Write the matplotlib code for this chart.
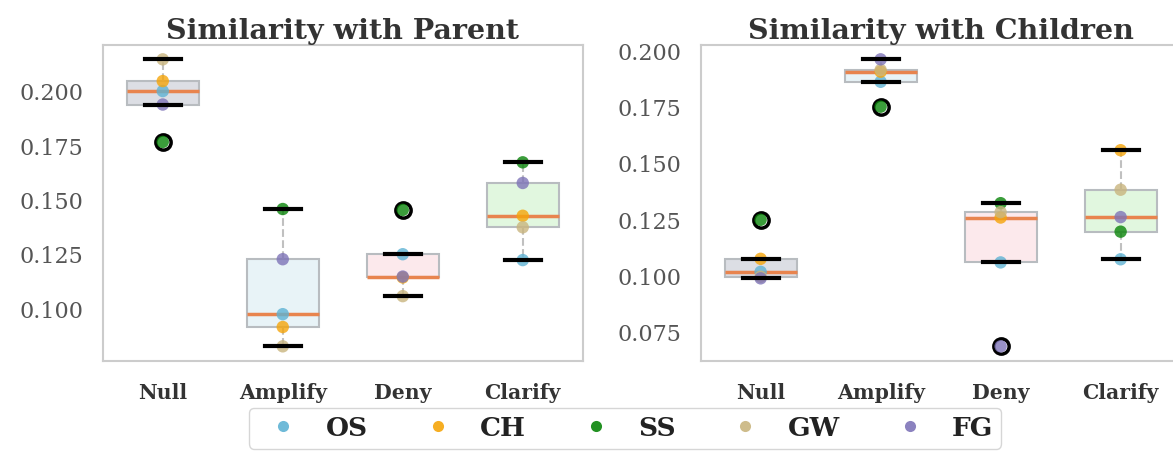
import matplotlib
matplotlib.use("Agg")
import matplotlib.pyplot as plt
from matplotlib.lines import Line2D
import numpy as np

categories = ["Null", "Amplify", "Deny", "Clarify"]
models = ["OS", "CH", "SS", "GW", "FG"]
model_colors = ["#5fb3d4", "#f5a50a", "#0a850a", "#c9b57e", "#7e74b8"]
box_colors = ["#dcdee4", "#e8f3f7", "#fce9ec", "#e1f7df"]

# Similarity with Parent, per model across categories
parent_OS = [0.2004, 0.0977, 0.1253, 0.1226]
parent_CH = [0.2050, 0.0918, 0.1146, 0.1430]
parent_SS = [0.1770, 0.1461, 0.1457, 0.1676]
parent_GW = [0.2150, 0.0829, 0.1060, 0.1377]
parent_FG = [0.1942, 0.1230, 0.1150, 0.1581]

# Similarity with Children
child_OS = [0.1019, 0.1866, 0.1061, 0.1075]
child_CH = [0.1077, 0.1911, 0.1261, 0.1561]
child_SS = [0.1251, 0.1755, 0.1325, 0.1198]
child_GW = [0.0997, 0.1919, 0.1285, 0.1385]
child_FG = [0.0990, 0.1966, 0.0687, 0.1263]

titles = ["Similarity with Parent", "Similarity with Children"]
panels = [
    [parent_OS, parent_CH, parent_SS, parent_GW, parent_FG],
    [child_OS, child_CH, child_SS, child_GW, child_FG],
]

plt.rcParams["font.family"] = "DejaVu Serif"

fig = plt.figure(figsize=(11.73, 4.55), dpi=100)
ax_pos = [[0.0876, 0.2073, 0.4092, 0.6938], [0.5973, 0.2073, 0.4092, 0.6938]]

for p, (series, title) in enumerate(zip(panels, titles)):
    ax = fig.add_axes(ax_pos[p])
    arr = np.array(series)  # models x categories
    data = [arr[:, c] for c in range(len(categories))]
    pos = np.arange(1, len(categories) + 1)
    bp = ax.boxplot(
        data, positions=pos, widths=0.6, patch_artist=True, whis=1.5,
        boxprops=dict(edgecolor="#b8bcc0", linewidth=1.5),
        medianprops=dict(color="#e8844e", linewidth=2.5),
        whiskerprops=dict(color="#c0c0c0", linestyle="--", linewidth=1.5),
        capprops=dict(color="black", linewidth=3),
        flierprops=dict(marker="o", markerfacecolor="none", markeredgecolor="black",
                        markersize=11, markeredgewidth=2.5),
    )
    for patch, bc in zip(bp["boxes"], box_colors):
        patch.set_facecolor(bc)
    for cap in bp["caps"]:
        cap.set_zorder(5)
    for fl in bp["fliers"]:
        fl.set_zorder(2)
    for m, col in enumerate(model_colors):
        ax.scatter(pos, arr[m], s=80, color=col, alpha=0.8, zorder=3,
                   edgecolors="none")
    ax.set_xticks(pos)
    ax.set_xticklabels(categories, fontweight="bold", fontsize=14.7, color="#333333")
    ax.set_yticks([0.075, 0.100, 0.125, 0.150, 0.175, 0.200])
    ax.yaxis.set_major_formatter(matplotlib.ticker.FormatStrFormatter("%.3f"))
    ax.tick_params(axis="y", labelsize=16, labelcolor="#555555", length=0, pad=14)
    ax.tick_params(axis="x", length=0, pad=16)
    ax.margins(y=0.05)
    ax.set_xlim(0.5, 4.5)
    for s in ax.spines.values():
        s.set_color("#cccccc")
        s.set_linewidth(1.5)
    ax.set_title(title, fontweight="bold", fontsize=20.5, color="#333333", pad=4)

handles = [Line2D([], [], marker="o", linestyle="none", markersize=8,
                  markerfacecolor=c, markeredgecolor="none", alpha=0.9)
           for c in model_colors]
fig.legend(handles, models, loc="center", bbox_to_anchor=(0.533, 0.059), ncol=5,
           prop={"family": "DejaVu Serif", "weight": "bold", "size": 19},
           frameon=True, edgecolor="#cccccc", handletextpad=0.6, columnspacing=1.65,
           borderpad=0.3, labelcolor="#222222")

fig.savefig("out.png", dpi=100)
